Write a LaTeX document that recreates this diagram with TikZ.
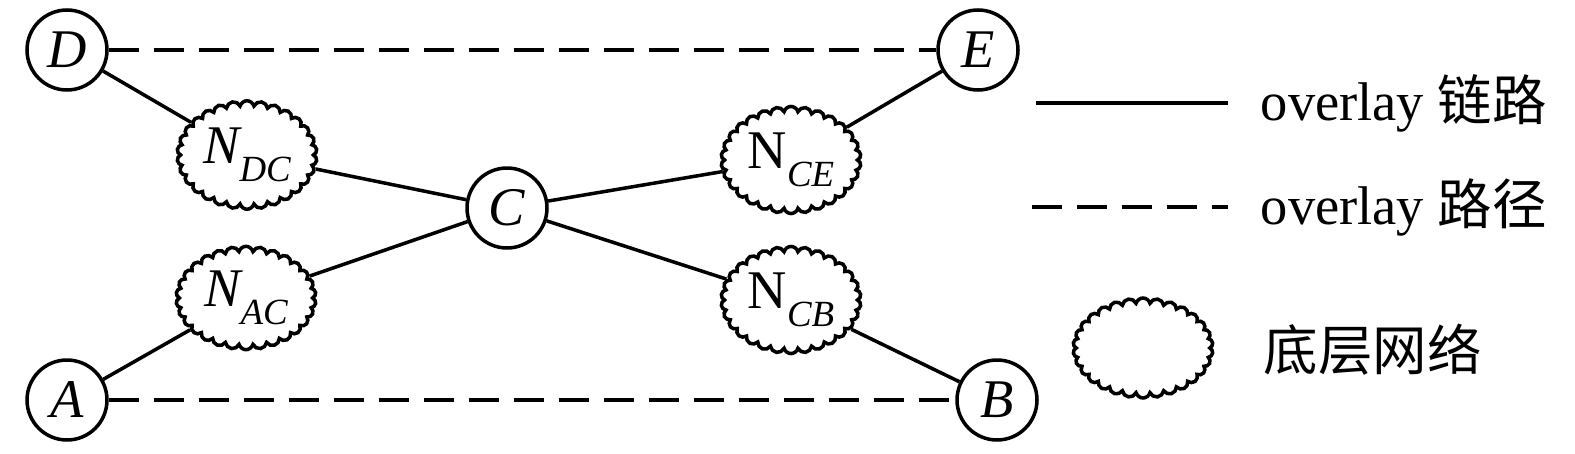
\documentclass[tikz,border=0pt]{standalone}
\usepackage{fontspec}
\setmainfont{Liberation Serif}
\newfontfamily\cjk{Noto Sans CJK SC}
\usetikzlibrary{shapes.symbols}
\newcommand{\nsub}[2]{#1\raisebox{-0.32em}{\fontsize{21}{21}\selectfont\itshape #2}}
\begin{document}
\begin{tikzpicture}[x=0.02cm,y=-0.02cm, line width=2pt,
  peer/.style={circle, draw, minimum size=1.6cm, inner sep=0pt, font=\fontsize{31}{31}\selectfont\itshape},
  net/.style={cloud, draw, cloud puffs=30, cloud puff arc=150, aspect=1.25, minimum width=2.8cm, minimum height=2.0cm, inner sep=0pt, font=\fontsize{31}{31}\selectfont},
  link/.style={draw},
  opath/.style={draw, dash pattern=on 0.6cm off 0.3cm},
  legtext/.style={anchor=west, inner sep=0pt, font=\fontsize{31}{31}\selectfont}
]
\useasboundingbox (0,0) rectangle (1575,453);
\node[peer] (D) at (67,50) {D};
\node[peer] (E) at (978,50) {E};
\node[peer] (A) at (67,400) {A};
\node[peer] (B) at (997,400) {B};
\node[peer] (C) at (507,208) {C};
\node[net] (NDC) at (247,155) {\nsub{\itshape N}{DC}};
\node[net] (NAC) at (246,298) {\nsub{\itshape N}{AC}};
\node[net] (NCE) at (791,160) {\nsub{N}{CE}};
\node[net] (NCB) at (791,300) {\nsub{N}{CB}};
\path[link] (D) -- (NDC);
\path[link] (NDC) -- (C);
\path[link] (A) -- (NAC);
\path[link] (NAC) -- (C);
\path[link] (C) -- (NCE);
\path[link] (NCE) -- (E);
\path[link] (C) -- (NCB);
\path[link] (NCB) -- (B);
\path[opath] (D) -- (E);
\path[opath] (A) -- (B);
% legend
\coordinate (l1a) at (1036,103);
\coordinate (l1b) at (1228,103);
\coordinate (l2a) at (1032,207);
\coordinate (l2b) at (1228,207);
\path[link] (l1a) -- (l1b);
\path[opath] (l2a) -- (l2b);
\node[net] (leg) at (1143,348) {};
\node[legtext] (t1) at (1259,103) {overlay {\cjk 链路}};
\node[legtext] (t2) at (1259,207) {overlay {\cjk 路径}};
\node[legtext] (t3) at (1262,350) {\cjk 底层网络};
\end{tikzpicture}
\end{document}
